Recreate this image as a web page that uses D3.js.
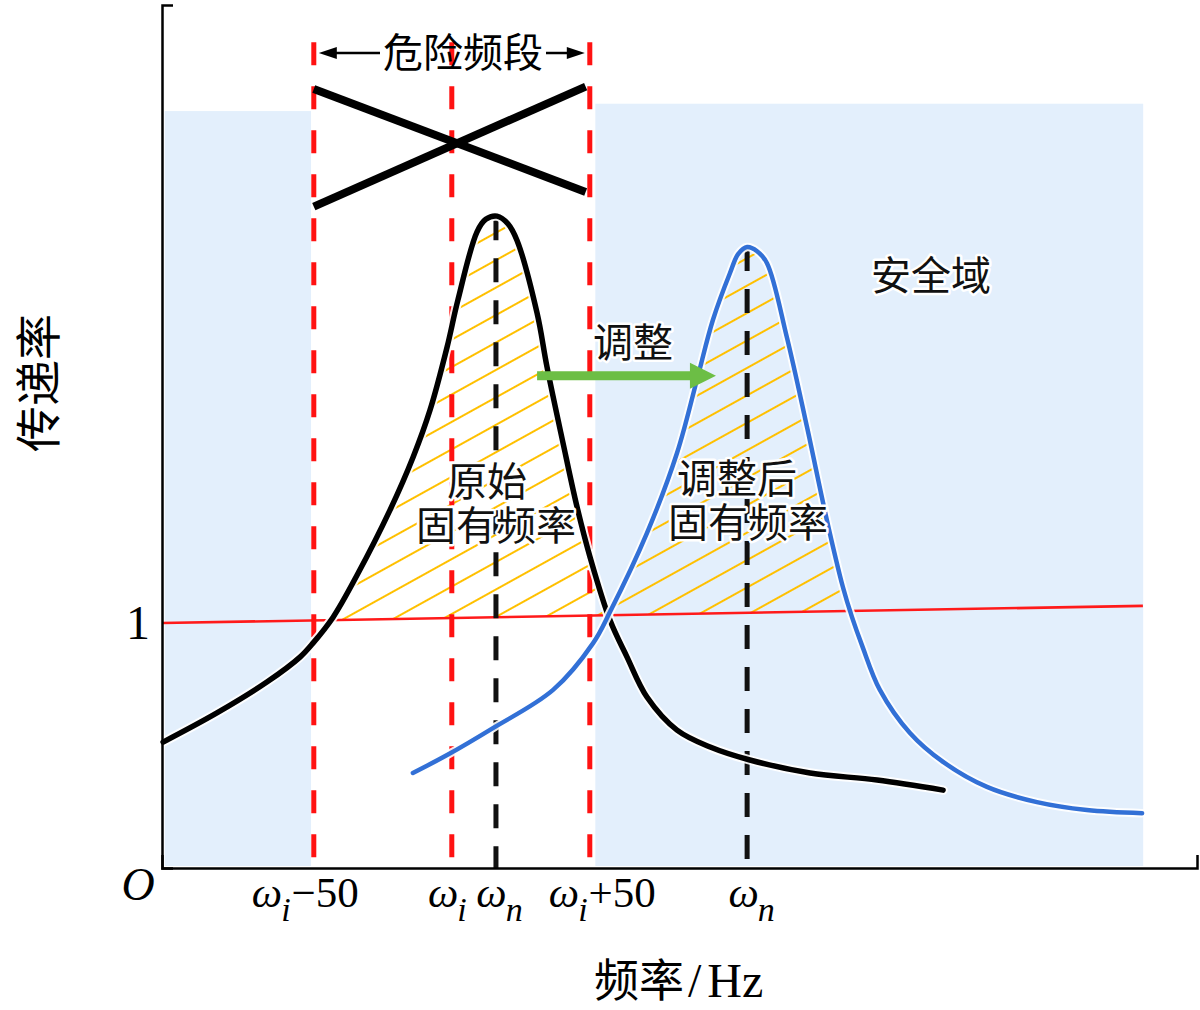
<!DOCTYPE html>
<html><head><meta charset="utf-8">
<script src="https://cdn.jsdelivr.net/npm/d3@7"></script>
<style>body{margin:0;background:#fff}svg{display:block}</style>
</head><body>
<script>
// ---------------- data ----------------
const tickValues = [55, 105, 121, 155, 212];
const tickLabels = [["ω","i","−50"],["ω","i",""],["ω","n",""],["ω","i","+50"],["ω","n",""]];
const yTickValues = [1];
const yTickLabels = ["1"];
const dangerBand = [55, 105, 155];          // ωi−50, ωi, ωi+50
const dangerTop = 3.371;
const naturalFreqs = [121, 212];            // original / adjusted ωn
const unityLine = [[0, 1.0], [355.4, 1.07]];
const safeZones = [[1, 54, 3.09], [157, 355.5, 3.12]];
const crossA = [[55, 3.18], [153.5, 2.76]];
const crossB = [[55, 2.70], [153.5, 3.19]];
const dimLevel = 3.327;
const shiftArrow = [[135.9, 2.01], [200.7, 2.01]];
const original = [
  [0.4,0.514],[19.9,0.633],[38.0,0.759],[50.0,0.861],[54.7,0.918],[62.0,1.024],
  [70.7,1.196],[82.6,1.461],[91.0,1.678],[97.1,1.869],[103.3,2.127],[107.2,2.318],
  [114.1,2.596],[117.3,2.648],[121.4,2.661],[125.4,2.629],[128.6,2.563],[135.9,2.265],
  [139.5,2.045],[145.3,1.735],[150.4,1.473],[155.1,1.269],[162.3,1.012],[168.5,0.861],
  [175.7,0.698],[186.6,0.563],[198.6,0.494],[213.0,0.441],[234.8,0.388],[259.1,0.359],
  [283.0,0.318]
];
const adjusted = [
  [90.9,0.388],[103.3,0.461],[119.9,0.571],[141.7,0.727],[156.2,0.918],[162.3,1.045],
  [175.7,1.367],[186.6,1.694],[193.8,1.992],[199.6,2.237],[205.8,2.429],[208.8,2.507],
  [212.0,2.535],[215.6,2.518],[219.2,2.469],[226.4,2.167],[233.7,1.800],[240.9,1.420],
  [246.7,1.147],[250.0,1.024],[253.6,0.910],[260.1,0.727],[271.0,0.551],[283.0,0.433],
  [298.9,0.331],[317.0,0.269],[335.1,0.237],[355.1,0.224]
];

// ---------------- setup ----------------
const W = 1200, H = 1010;
const x = d3.scaleLinear().domain([0, 375]).range([162, 1197]);
const y = d3.scaleLinear().domain([0, 3.523]).range([868, 5]);
const CJK = "'Noto Sans CJK SC','Noto Sans',sans-serif";
const SERIF = "'Liberation Serif','DejaVu Serif',serif";

const svg = d3.select("body").append("svg").attr("width", W).attr("height", H);
const defs = svg.append("defs");
const pat = defs.append("pattern").attr("id", "hatch")
  .attr("patternUnits", "userSpaceOnUse").attr("width", 40).attr("height", 24)
  .attr("patternTransform", "rotate(-29)");
pat.append("line").attr("x1", 0).attr("x2", 40).attr("y1", 12).attr("y2", 12)
  .attr("stroke", "#ffc000").attr("stroke-width", 2.2);

const uy = v => unityLine[0][1] + (unityLine[1][1] - unityLine[0][1]) * (v - unityLine[0][0]) / (unityLine[1][0] - unityLine[0][0]);
defs.append("clipPath").attr("id", "aboveUnity").append("path")
  .attr("d", `M${x(0)},${y(uy(0))}L${x(375)},${y(uy(375))}L${x(375)},0L${x(0)},0Z`);

const curve = d3.curveCatmullRom.alpha(0.5);
const line = d3.line().x(d => x(d[0])).y(d => y(d[1])).curve(curve);
const under = d3.area().x(d => x(d[0])).y0(y(0)).y1(d => y(d[1])).curve(curve);

// safe zones
svg.append("g").selectAll("rect").data(safeZones).join("rect")
  .attr("x", d => x(d[0])).attr("width", d => x(d[1]) - x(d[0]))
  .attr("y", d => y(d[2])).attr("height", d => y(0) - 2 - y(d[2]))
  .attr("fill", "#e3effc");

// hatched regions above unity
const hg = svg.append("g").attr("clip-path", "url(#aboveUnity)");
[original, adjusted].forEach(s => hg.append("path").attr("d", under(s)).attr("fill", "url(#hatch)"));

// unity line
svg.append("path").attr("d", d3.line().x(d => x(d[0])).y(d => y(d[1]))(unityLine))
  .attr("stroke", "#ff1a1a").attr("stroke-width", 2.6).attr("fill", "none");

// red dashed danger band
svg.append("g").selectAll("line").data(dangerBand).join("line")
  .attr("x1", d => x(d)).attr("x2", d => x(d))
  .attr("y1", y(dangerTop)).attr("y2", y(0.024))
  .attr("stroke", "#ff1212").attr("stroke-width", 5).attr("stroke-dasharray", "23,21");

// black dashed natural frequency lines
const peaks = [d3.max(original, d => d[1]), d3.max(adjusted, d => d[1])];
svg.append("g").selectAll("line").data(naturalFreqs).join("line")
  .attr("x1", d => x(d)).attr("x2", d => x(d))
  .attr("y1", (d, i) => y(peaks[i])).attr("y2", y(0))
  .attr("stroke", "#111").attr("stroke-width", 5).attr("stroke-dasharray", "24,18");

// curves with white halo
[[original, "#000", 5.5], [adjusted, "#3270d6", 4.5]].forEach(([s, c, w]) => {
  svg.append("path").attr("d", line(s)).attr("fill", "none").attr("stroke", "#fff")
    .attr("stroke-width", w + 4).attr("stroke-linecap", "round").attr("opacity", 0.9);
  svg.append("path").attr("d", line(s)).attr("fill", "none").attr("stroke", c)
    .attr("stroke-width", w).attr("stroke-linecap", "round");
});

// X mark over danger band
svg.append("g").selectAll("path").data([crossA, crossB]).join("path")
  .attr("d", d3.line().x(d => x(d[0])).y(d => y(d[1])))
  .attr("stroke", "#000").attr("stroke-width", 8).attr("fill", "none");

// dimension arrow "危险频段"
const dy = y(dimLevel);
const dl = x(dangerBand[0]) + 5, dr = x(dangerBand[2]) - 5;
const dim = svg.append("g");
dim.append("line").attr("x1", dl + 16).attr("x2", 380).attr("y1", dy).attr("y2", dy).attr("stroke", "#000").attr("stroke-width", 2.5);
dim.append("line").attr("x1", 546).attr("x2", dr - 16).attr("y1", dy).attr("y2", dy).attr("stroke", "#000").attr("stroke-width", 2.5);
dim.append("path").attr("d", `M${dl},${dy}L${dl + 18},${dy - 6}L${dl + 18},${dy + 6}Z`).attr("fill", "#000");
dim.append("path").attr("d", `M${dr},${dy}L${dr - 18},${dy - 6}L${dr - 18},${dy + 6}Z`).attr("fill", "#000");
dim.append("text").attr("x", 463).attr("y", dy + 14).attr("text-anchor", "middle")
  .attr("font-family", CJK).attr("font-size", 40).text("危险频段");

// green shift arrow
const ax0 = x(shiftArrow[0][0]), ax1 = x(shiftArrow[1][0]), ay = y(shiftArrow[0][1]);
svg.append("line").attr("x1", ax0).attr("x2", ax1 - 24).attr("y1", ay).attr("y2", ay)
  .attr("stroke", "#6cbe45").attr("stroke-width", 9);
svg.append("path").attr("d", `M${ax1},${ay}L${ax1 - 26},${ay - 13}L${ax1 - 26},${ay + 13}Z`).attr("fill", "#6cbe45");

// annotations (multi-line labels are one text with tspans)
function label(tx, ty, lines, size, offs) {
  const t = svg.append("text").attr("y", ty).attr("text-anchor", "middle")
    .attr("font-family", CJK).attr("font-size", size).attr("fill", "#111")
    .attr("stroke", "#fff").attr("stroke-width", 5).attr("stroke-linejoin", "round")
    .attr("paint-order", "stroke");
  lines.forEach((s, i) => t.append("tspan").attr("x", tx + (offs ? offs[i] : 0))
    .attr("dy", i === 0 ? 0 : 44).text(s));
}
label(633, 357, ["调整"], 40);
label(931, 290, ["安全域"], 40);
label(492, 496, ["原始", "固有频率"], 40, [-5, 4]);
label(743, 493, ["调整后", "固有频率"], 40, [-6, 5]);

// axes
const labelShift = [-9, -5, 3, 12, 4];
const xAxis = svg.append("g").attr("transform", `translate(0,${y(0)})`)
  .call(d3.axisBottom(x).tickValues(tickValues).tickSize(0).tickSizeOuter(-13).tickFormat(""));
xAxis.select(".domain").attr("stroke-width", 2.5);
xAxis.selectAll(".tick").each(function(d, i) {
  const lab = tickLabels[i];
  const t = d3.select(this).append("text").attr("x", labelShift[i]).attr("y", 39).attr("fill", "#000")
    .attr("text-anchor", "middle").attr("font-family", SERIF).attr("font-size", 43);
  t.append("tspan").attr("font-style", "italic").text(lab[0]);
  t.append("tspan").attr("font-style", "italic").attr("font-size", 34).attr("dx", -1).attr("dy", 14).text(lab[1]);
  if (lab[2]) t.append("tspan").attr("dy", -14).attr("dx", 1).text(lab[2]);
});
const yAxis = svg.append("g").attr("transform", `translate(${x(0)},0)`)
  .call(d3.axisLeft(y).tickValues(yTickValues).tickSize(0).tickSizeOuter(-11).tickFormat((d, i) => yTickLabels[i]));
yAxis.select(".domain").attr("stroke-width", 2.5);
yAxis.selectAll(".tick text").attr("x", -12).attr("dy", "0.33em")
  .attr("font-family", SERIF).attr("font-size", 48).attr("fill", "#000");

svg.append("text").attr("x", 138).attr("y", 900).attr("text-anchor", "middle")
  .attr("font-family", SERIF).attr("font-style", "italic").attr("font-size", 46).text("O");

const xt = svg.append("text").attr("x", 594).attr("y", 997).attr("font-size", 45);
xt.append("tspan").attr("font-family", CJK).text("频率");
xt.append("tspan").attr("font-family", SERIF).attr("font-size", 48).attr("dx", 4).text("/");
xt.append("tspan").attr("font-family", SERIF).attr("font-size", 48).attr("dx", 6).text("Hz");

svg.append("text").attr("transform", "translate(55,383) rotate(-90)")
  .attr("text-anchor", "middle").attr("font-family", CJK).attr("font-size", 46).text("传递率");
</script>
</body></html>
